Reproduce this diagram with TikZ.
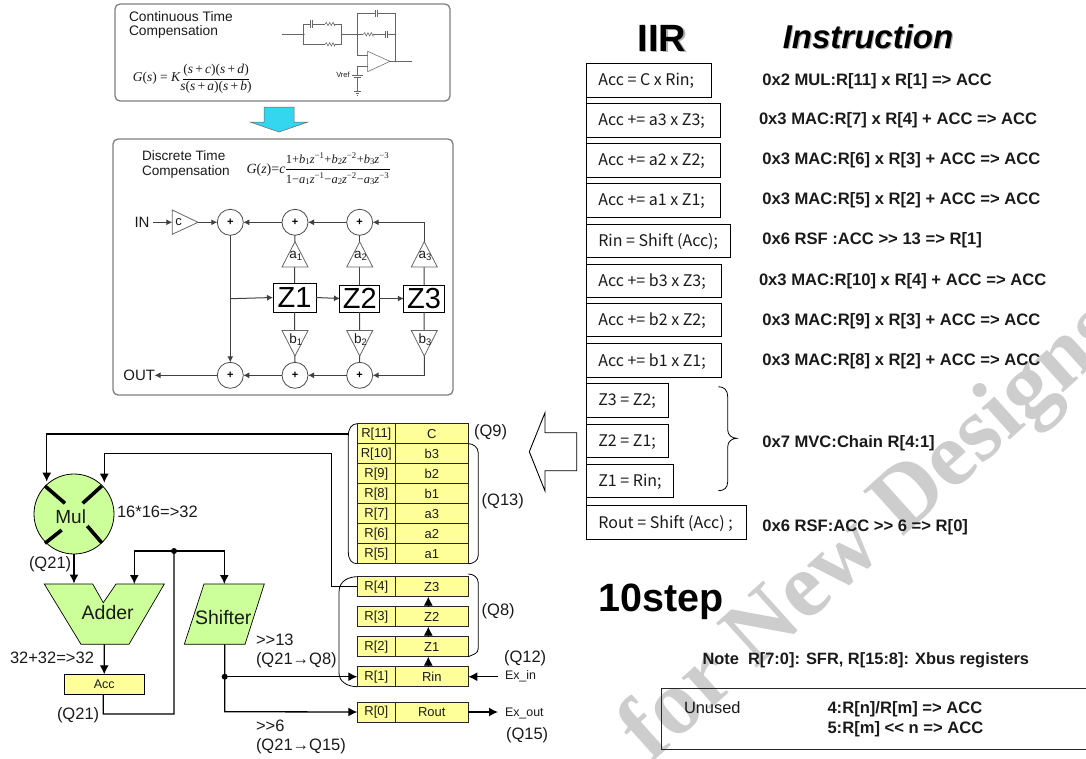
\documentclass[tikz,border=0pt]{standalone}
\usepackage{fontspec}
\setmainfont{Liberation Sans}
\newfontfamily\jpf{Noto Sans CJK JP}
\newfontfamily\serf{Liberation Serif}
\usetikzlibrary{arrows.meta}
\newcommand\fs[1]{\fontsize{#1}{#1}\selectfont}
\newcommand\zt[3]{\textit{#1}\textsubscript{#2}\kern-.5pt\textit{z}\textsuperscript{−#3}}
\definecolor{regy}{HTML}{FFFF99}
\definecolor{grn}{HTML}{CCFF99}
\definecolor{wm}{HTML}{CDCDCD}
\definecolor{cya}{HTML}{33D6EE}
\definecolor{panel}{HTML}{7F7F7F}
\definecolor{ink}{HTML}{1A1A1A}
\definecolor{cirg}{HTML}{666666}
\tikzset{
  lab/.style={inner sep=0,outer sep=0,text=ink},
  lw/.style={lab,anchor=west},
  panelbox/.style={draw=panel,line width=1.3pt,rounded corners=5pt},
  cir/.style={draw=cirg,line width=.55pt},
  ahead/.style={-{Latex[length=6pt,width=6pt]}},
  big/.style={-{Latex[length=9pt,width=9pt]}},
  flow/.style={draw=black!75,line width=1pt,ahead},
  fline/.style={draw=black!75,line width=1pt},
  sumn/.style={circle,draw=black!70,fill=white,line width=.8pt,minimum size=26pt,inner sep=0,outer sep=0,font=\fs{11}\bfseries},
  zbox/.style={draw=black,fill=white,line width=1pt,inner sep=0,outer sep=0,font=\fs{29}},
  tri/.style={draw=black!60,line width=.8pt,fill=white},
  bus/.style={draw=black,line width=1.3pt},
  busar/.style={bus,big},
  greenp/.style={draw=black,line width=.7pt,fill=grn},
  regl/.style={draw=black!85,fill=regy,line width=.8pt,anchor=north west,minimum width=38pt,minimum height=20pt,inner sep=0,outer sep=0,font=\fs{13},text=ink},
  regv/.style={regl,minimum width=73pt},
  brk/.style={draw=black,line width=.8pt},
  codebox/.style={draw=black,line width=.9pt,fill=white,anchor=north west,inner sep=0,outer sep=0},
  codet/.style={lw,font=\jpf\fs{16}},
  instr/.style={lw,font=\bfseries\fs{16.6}},
  q/.style={lw,font=\fs{16.5}},
}
\newcommand\rs[2]{\draw[cir] (#1,#2) -- ++(4,-5) -- ++(5,10) -- ++(5,-10) -- ++(5,10) -- ++(5,-10) -- ++(5,10) -- ++(1,-5);}
\newcommand\capv[2]{\draw[cir,line width=1.1pt] (#1-3,#2-11) -- (#1-3,#2+11) (#1+3,#2-11) -- (#1+3,#2+11);}
\newcommand\dotc[2]{\fill[cirg] (#1,#2) circle (3);}
\begin{document}
\begin{tikzpicture}[x=1pt,y=-1pt]
\useasboundingbox (0,0) rectangle (1086,758);
% watermark
\node[inner sep=0,rotate=42,text=wm,font=\serf\bfseries\fs{92}] (wmark) at (874,533) {for New Designs};

% continuous panel
\draw[panelbox] (115,4) rectangle (450,101);
\node[lw,font=\fs{13.8}] (ct1) at (129,16.5) {Continuous Time};
\node[lw,font=\fs{13.8}] (ct2) at (129,32) {Compensation};
\node[lab,font=\serf\fs{13.5},anchor=east] (gs) at (180.7,78) {\textit{G}(\textit{s}) = \textit{K}};
\node[lab,font=\serf\fs{13.5}] (gsn) at (216,70.5) {(\textit{s}\,+\,\textit{c})(\textit{s}\,+\,\textit{d})};
\draw[draw=black,line width=.6pt] (182.7,79.3) -- (249.3,79.3);
\node[lab,font=\serf\fs{13.5}] (gsd) at (216,87.5) {\textit{s}(\textit{s}\,+\,\textit{a})(\textit{s}\,+\,\textit{b})};
\begin{scope}[shift={(110,0)},x=.33333pt,y=-.33333pt]
  \draw[cir] (517,103) -- (581,103) (581,103) -- (581,72) -- (600,72) (610,72) -- (645,72) (675,72) -- (695,72) -- (695,133) -- (675,133) (645,133) -- (581,133) -- (581,103);
  \capv{605}{72}\rs{645}{72}\rs{645}{133}
  \draw[cir] (695,103) -- (760,103) (790,103) -- (825,103) (835,103) -- (856,103);
  \rs{760}{103}\capv{830}{103}
  \draw[cir] (742,103) -- (742,40) -- (795,40) (805,40) -- (856,40) -- (856,184);
  \capv{800}{40}
  \draw[cir] (742,103) -- (742,166) -- (773,166);
  \draw[cir] (773,154) -- (773,215) -- (840,184) -- cycle;
  \draw[cir] (840,184) -- (905,184);
  \draw[cir] (773,200) -- (742,200) -- (742,225);
  \draw[cir] (725,225) -- (760,225) (733,232) -- (752,232) (742,232) -- (742,275) (733,275) -- (752,275) (737,280) -- (747,280) (740,285) -- (744,285);
  \dotc{581}{103}\dotc{695}{103}\dotc{742}{103}\dotc{856}{103}\dotc{856}{184}
\end{scope}
\node[lab,font=\fs{7.5}] (vref) at (343,75) {Vref};

% down arrow
\draw[draw=black!60,fill=cya,line width=.5pt] (264,107) -- (294,107) -- (294,122) -- (308,122) -- (279,132) -- (250,122) -- (264,122) -- cycle;

% discrete panel
\draw[panelbox] (113,139) rectangle (453,395);
\node[lw,font=\fs{13.6}] (dt1) at (142,156) {Discrete Time};
\node[lw,font=\fs{13.6}] (dt2) at (142,171.5) {Compensation};
\node[lab,font=\serf\fs{14},anchor=east] (gz) at (285.5,170) {\textit{G}(\textit{z})=\textit{c}};
\node[lab,font=\serf\fs{12.5}] (gzn) at (337.5,159) {1+\zt{b}{1}{1}+\zt{b}{2}{2}+\zt{b}{3}{3}};
\draw[draw=black,line width=.6pt] (286,169) -- (389.5,169);
\node[lab,font=\serf\fs{12.5}] (gzd) at (337.5,179) {1−\zt{a}{1}{1}−\zt{a}{2}{2}−\zt{a}{3}{3}};

% filter nodes
\node[lab,font=\fs{15},anchor=east] (in) at (149.5,222.3) {IN};
\draw[tri] (172.3,210) -- (172.3,234.3) -- (198,222.3) -- cycle;
\node[lab,font=\fs{13}] (cl) at (178.5,222.5) {c};
\coordinate (ctip) at (198,222.3);
\coordinate (cin) at (172.3,222.3);
\node[sumn] (s1) at (230.3,222.3) {+};
\node[sumn] (s2) at (295,222.3) {+};
\node[sumn] (s3) at (359.7,222.3) {+};
\node[sumn] (o1) at (230.3,375.3) {+};
\node[sumn] (o2) at (295,375.3) {+};
\node[sumn] (o3) at (359.7,375.3) {+};
\node[zbox,minimum width=43pt,minimum height=29pt] (z1) at (294.5,297.5) {Z1};
\node[zbox,minimum width=39.5pt,minimum height=27pt] (z2) at (359.7,298.5) {Z2};
\node[zbox,minimum width=40.5pt,minimum height=27pt] (z3) at (424,298.5) {Z3};
\coordinate (a3top) at (424.3,241.7);
\coordinate (r3) at (424.3,222.3);
\coordinate (br3) at (424.5,375.3);
\coordinate (j1) at (230.3,298.7);
\coordinate (outc) at (154.5,375.3);
% connectors behind triangles
\draw[fline] (z1.north) -- (s2.south);
\draw[fline] (z2.north) -- (s3.south);
\draw[fline] (z3.north) -- (a3top) (z1.south) -- (o2.north) (z2.south) -- (o3.north);
\draw[fline] (z3.south) -- (br3);
\draw[flow] (br3) -- (o3.east);
\draw[fline] (a3top) -- (r3);
\draw[flow] (r3) -- (s3.east);
\foreach \x/\l/\m in {295/a/1,359.7/a/2,424.3/a/3}{
  \draw[tri] (\x,241.7) -- (\x-13,267) -- (\x+13,267) -- cycle;
  \node[lab,font=\fs{13.5}] (t\l\m) at (\x+1,256) {\l\textsubscript{\m}};
}
\foreach \x/\l/\m in {295/b/1,359.7/b/2,424.3/b/3}{
  \draw[tri] (\x-13,330.5) -- (\x+13,330.5) -- (\x,356) -- cycle;
  \node[lab,font=\fs{13.5}] (t\l\m) at (\x+1,339.5) {\l\textsubscript{\m}};
}
\draw[flow] ([xshift=3.5pt]in.east) -- (cin);
\draw[flow] (ctip) -- (s1.west);
\draw[flow] (s2.west) -- (s1.east);
\draw[flow] (s3.west) -- (s2.east);
\draw[fline] (s1.south) -- (j1);
\draw[flow] (j1) -- (o1.north);
\draw[flow] (j1) -- (z1.west);
\draw[flow] (z1.east) -- (z2.west);
\draw[flow] (z2.east) -- (z3.west);
\draw[flow] (o3.west) -- (o2.east);
\draw[flow] (o2.west) -- (o1.east);
\draw[flow] (o1.west) -- (outc);
\node[lab,font=\fs{15},anchor=east] (out) at (155,375.3) {OUT};

% registers
\foreach \n/\y/\a/\b in {r11/423.7/R[11]/C,r10/443.7/R[10]/b3,r9/463.8/R[9]/b2,r8/483.8/R[8]/b1,r7/503.8/R[7]/a3,r6/523.8/R[6]/a2,r5/543.8/R[5]/a1,r4/576.7/R[4]/Z3,r3/606.7/R[3]/Z2,r2/636.7/R[2]/Z1,r1/666.7/R[1]/Rin,r0/702/R[0]/Rout}{
  \node[regl] (\n l) at (357.3,\y) {\a};
  \node[regv] (\n v) at (395.3,\y) {\b};
}
\draw[brk] (r11l.north west) .. controls (352,423.7) and (348.3,428) .. (348.3,436) -- (348.3,552) .. controls (348.3,560) and (352,563.7) .. (r5l.south west);
\draw[brk] (r10v.north east) .. controls (473,443.7) and (478.3,447) .. (478.3,453) -- (478.3,555) .. controls (478.3,561) and (473,563.7) .. (r5v.south east);
\draw[brk] (r4l.north west) .. controls (350,576.7) and (339,580) .. (339,592) -- (339,673) .. controls (339,682) and (348,686.7) .. (r1l.south west);
\draw[brk] (468.3,574) .. controls (473,574) and (478.3,577) .. (478.3,583) -- (478.3,648) .. controls (478.3,654) and (473,654.3) .. (r2v.south east);
\draw[big,line width=.8pt] ([xshift=-3.5pt]r3v.north) -- ([xshift=-3.5pt]r4v.south);
\draw[big,line width=.8pt] ([xshift=-3.5pt]r2v.north) -- ([xshift=-3.5pt]r3v.south);
\draw[big,line width=.8pt] ([xshift=-3.5pt]r1v.north) -- ([xshift=-3.5pt]r2v.south);

% datapath
\node[circle,draw=black,fill=grn,line width=.8pt,minimum size=80pt,inner sep=0,outer sep=0] (mul) at (74,514) {};
\draw[line width=3.6pt] (45,486) -- (65,503.3) (101.7,486) -- (82.7,503.3) (45,543.3) -- (61.7,530) (101.7,542.7) -- (87.3,526);
\node[lab,font=\fs{19}] (mult) at (70.7,517) {Mul};
\node[q] (q16) at (117,511.7) {16*16=>32};
\node[q] (q21a) at (29,564) {(Q21)};
\draw[greenp] (44.3,584) -- (92.7,584) -- (103.3,602.7) -- (116,584) -- (164.3,584) -- (129,644.3) -- (81,644.3) -- cycle;
\node[lab,font=\fs{19.5}] (add) at (107.7,612.7) {Adder};
\draw[greenp] (204,584) -- (264.3,584) -- (245,644.3) -- (184.3,644.3) -- cycle;
\node[lab,font=\fs{19.5}] (shf) at (223.3,617.3) {Shifter};
\node[draw=black,fill=regy,line width=.8pt,minimum width=80.3pt,minimum height=20pt,inner sep=0,outer sep=0,font=\fs{12.5},text=ink] (acc) at (104.2,684.3) {Acc};
\node[q] (q32) at (10,658) {32+32=>32};
\node[q] (q21b) at (57,715) {(Q21)};
\coordinate (addtop) at (134.3,584);
\coordinate (addbot) at (104.3,644.3);
\coordinate (shtop) at (224.3,584);
\coordinate (shbot) at (224.7,644.3);
\coordinate (busl) at (134.3,551);
\coordinate (busr) at (224.3,551);
\coordinate (busj) at (174,551);
\coordinate (m1) at (46.7,481.7);
\coordinate (m2) at (104.3,482.7);
\coordinate (shj) at (224.7,676.7);
\draw[busar] (mul.south) -- (74,583.5);
\draw[busar] (addbot) -- (acc.north);
\draw[bus] (acc.south) ++(-1,0) -- (103.3,714) -- (174,714) -- (busj);
\draw[busar] (busj) -- (busl) -- (addtop);
\draw[busar] (busj) -- (busr) -- (shtop);
\fill (busj) circle (3);
\draw[busar] (348.3,434) -- (46.7,434) -- (m1);
\draw[busar] (r4l.west) -- (331.7,586.7) -- (331.7,453.7) -- (104.3,453.7) -- (m2);
\draw[busar] (shj) -- (r1l.west);
\draw[busar] (shbot) -- (224.7,711.7) -- (r0l.west);
\fill (shj) circle (3);
\draw[busar] (498,676.7) -- (r1v.east);
\draw[busar] (r0v.east) -- (498,712);
\node[q] (s13) at (256,640) {>{}>13};
\node[q] (q218) at (256,660) {(Q21→Q8)};
\node[q] (s6) at (256,725.7) {>{}>6};
\node[q] (q2115) at (256,746) {(Q21→Q15)};
\node[q] (q9) at (474,432) {(Q9)};
\node[q] (q13) at (481.7,501.7) {(Q13)};
\node[q] (q8) at (481.7,611.7) {(Q8)};
\node[q] (q12) at (504,658) {(Q12)};
\node[q] (q15) at (506,735) {(Q15)};
\node[lw,font=\fs{12.4}] (exi) at (505,676) {Ex\_in};
\node[lw,font=\fs{12.4}] (exo) at (505,713) {Ex\_out};

% hollow arrow
\draw[line width=.9pt] (529.3,451.7) -- (545,412.7) -- (545,432.7) -- (576.7,432.7) -- (576.7,470.7) -- (545,470.7) -- (545,491) -- cycle;

% titles
\node[lab,font=\bfseries\fs{38},text=black!30] (iirs) at (663.2,39.2) {IIR};
\node[lab,font=\bfseries\fs{38},text=black] (iir) at (662,38) {IIR};
\node[lab,font=\bfseries\itshape\fs{33},text=black!30] (inss) at (869.2,38.2) {Instruction};
\node[lab,font=\bfseries\itshape\fs{33},text=black] (ins) at (868,37) {Instruction};

% code boxes
\foreach \n/\y/\w/\h/\t in {c1/63.3/125.7/33.7/{Acc = C x Rin;},c2/103.7/134.3/33.3/{Acc += a3 x Z3;},c3/143.7/134.3/33.3/{Acc += a2 x Z2;},c4/183.7/134.3/33.3/{Acc += a1 x Z1;},c5/224/144.3/33/{Rin = Shift (Acc);},c6/264/135/33.3/{Acc += b3 x Z3;},c7/303.3/135/33.4/{Acc += b2 x Z2;},c8/343.3/135/34/{Acc += b1 x Z1;},c9/383.7/82.3/33.3/{Z3 = Z2;},c10/424/82.3/33.3/{Z2 = Z1;},c11/464.3/87.3/33.4/{Z1 = Rin;},c12/505.3/160.3/33.7/{Rout = Shift (Acc) ;}}{
  \node[codebox,minimum width=\w pt,minimum height=\h pt] (\n) at (586,\y) {};
  \node[codet] (\n t) at (598.3,\y+\h/2+1) {\t};
}
\draw[line width=.9pt] (c1.north west) -- (c12.south west);
\draw[line width=.8pt] (718.3,386.7) .. controls (724,386.7) and (727.7,390) .. (727.7,396.7) -- (727.7,430) .. controls (727.7,435) and (732,438.3) .. (736.7,438.3) .. controls (732,438.3) and (727.7,441.5) .. (727.7,446.7) -- (727.7,481.7) .. controls (727.7,488) and (724,490.7) .. (718.3,490.7);

% instructions
\node[instr] (i1) at (762.3,81.5) {0x2 MUL:R[11] x R[1] => ACC};
\node[instr] (i2) at (759,120.5) {0x3 MAC:R[7] x R[4] + ACC => ACC};
\node[instr] (i3) at (762.3,160.5) {0x3 MAC:R[6] x R[3] + ACC => ACC};
\node[instr] (i4) at (762.3,200.5) {0x3 MAC:R[5] x R[2] + ACC => ACC};
\node[instr] (i5) at (762.3,240.5) {0x6 RSF :ACC >{}> 13 => R[1]};
\node[instr] (i6) at (759,281.5) {0x3 MAC:R[10] x R[4] + ACC => ACC};
\node[instr] (i7) at (762.3,321) {0x3 MAC:R[9] x R[3] + ACC => ACC};
\node[instr] (i8) at (762.3,361) {0x3 MAC:R[8] x R[2] + ACC => ACC};
\node[instr] (i9) at (762.3,443.5) {0x7 MVC:Chain R[4:1]};
\node[instr] (i10) at (762.3,527) {0x6 RSF:ACC >{}> 6 => R[0]};

\node[lab,font=\bfseries\fs{39.5},text=black,anchor=base west] (step) at (598.5,611) {10step};
\node[lab,font=\bfseries\fs{16.4},anchor=west] (note) at (702.5,660.5) {Note\ \ R[7:0]: SFR, R[15:8]: Xbus registers};
\draw[draw=black!85,line width=.9pt] (1087,688) -- (661.5,688) -- (661.5,749) -- (1087,749);
\node[lw,font=\fs{16.4}] (unu) at (684,707.5) {Unused};
\node[lw,font=\bfseries\fs{16.6}] (n4) at (827.5,709) {4:R[n]/R[m] => ACC};
\node[lw,font=\bfseries\fs{16.6}] (n5) at (827.5,729) {5:R[m] <{}< n => ACC};
\end{tikzpicture}
\end{document}
